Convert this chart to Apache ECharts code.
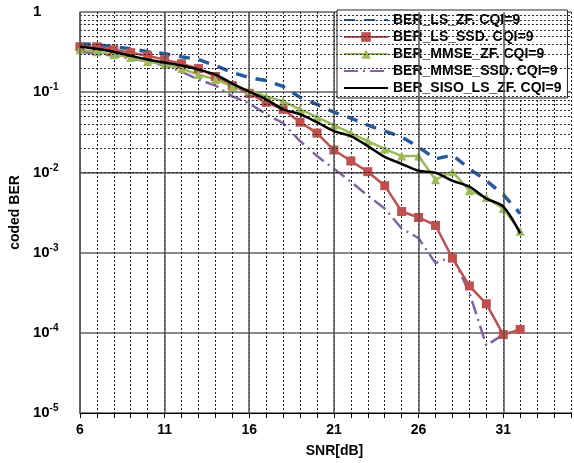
<!DOCTYPE html>
<html>
<head>
<meta charset="utf-8">
<script src="https://cdn.jsdelivr.net/npm/echarts@6/dist/echarts.min.js"></script>
<style>
html, body { margin: 0; padding: 0; background: #fff; }
#container { width: 574px; height: 463px; }
</style>
</head>
<body>
<div id="container"></div>
<script>
// SNR points (dB)
var snr = [6, 7, 8, 9, 10, 11, 12, 13, 14, 15, 16, 17, 18, 19, 20, 21, 22, 23, 24, 25, 26, 27, 28, 29, 30, 31, 32];

// coded BER
var berLsZf = [0.402, 0.391, 0.369, 0.348, 0.320, 0.302, 0.277, 0.255, 0.215, 0.176, 0.152, 0.140, 0.118, 0.0862, 0.0706, 0.0562, 0.0474, 0.0388, 0.0327, 0.0276, 0.0207, 0.0147, 0.0165, 0.0111, 0.00787, 0.00528, 0.00307];
var berLsSsd = [0.369, 0.369, 0.339, 0.311, 0.285, 0.255, 0.227, 0.197, 0.157, 0.121, 0.0966, 0.0748, 0.0612, 0.0423, 0.0309, 0.0190, 0.0139, 0.0102, 0.00683, 0.00325, 0.00274, 0.00218, 0.000853, 0.000384, 0.000230, 0.0000950, 0.000110];
var berMmseZf = [0.339, 0.320, 0.294, 0.270, 0.241, 0.221, 0.197, 0.166, 0.144, 0.118, 0.105, 0.0887, 0.0769, 0.0612, 0.0488, 0.0388, 0.0309, 0.0246, 0.0196, 0.0160, 0.0160, 0.00810, 0.0102, 0.00592, 0.00485, 0.00355, 0.00184];
var berMmseSsd = [0.320, 0.302, 0.285, 0.262, 0.241, 0.215, 0.181, 0.144, 0.121, 0.0887, 0.0727, 0.0531, 0.0411, 0.0246, 0.0160, 0.0111, 0.00765, 0.00513, 0.00355, 0.00200, 0.00151, 0.00074, 0.00090, 0.000315, 0.0000695, 0.0000950, null];
var berSisoLsZf = [0.369, 0.348, 0.320, 0.285, 0.255, 0.234, 0.215, 0.191, 0.166, 0.128, 0.102, 0.0815, 0.0612, 0.0531, 0.0423, 0.0327, 0.0284, 0.0213, 0.0156, 0.0128, 0.0105, 0.0099, 0.00787, 0.00664, 0.00471, 0.00375, 0.00174];

var seriesNames = ['BER_LS_ZF. CQI=9', 'BER_LS_SSD. CQI=9', 'BER_MMSE_ZF. CQI=9', 'BER_MMSE_SSD. CQI=9', 'BER_SISO_LS_ZF. CQI=9'];
var xMajor = [6, 11, 16, 21, 26, 31];
var decades = [-5, -4, -3, -2, -1];

var pairs = function (ys) {
    var res = [];
    for (var i = 0; i < snr.length; i++) {
        res.push([snr[i], ys[i]]);
    }
    return res;
};

// dashed minor grid at 2..9 x 10^d, solid lines at the major SNR ticks
var gridLines = [];
decades.forEach(function (d) {
    for (var k = 2; k <= 9; k++) {
        gridLines.push({ yAxis: k * Math.pow(10, d), lineStyle: { type: [2, 2], color: '#222', width: 1 } });
    }
});
xMajor.forEach(function (v) {
    gridLines.push({ xAxis: v, lineStyle: { type: 'solid', color: '#555', width: 1.5 } });
});

// lines without markers get no symbol in the legend
var noMark = { opacity: 0 };
var legendData = [
    { name: seriesNames[0], itemStyle: noMark },
    { name: seriesNames[1] },
    { name: seriesNames[2] },
    { name: seriesNames[3], itemStyle: noMark },
    { name: seriesNames[4], itemStyle: noMark }
];

var font = 'Liberation Sans, Arial, sans-serif';
var myChart = echarts.init(document.getElementById('container'));
var option = {
    backgroundColor: '#fff',
    animation: false,
    grid: { left: 77, right: 0, top: 12, bottom: 47, containLabel: false },
    legend: {
        orient: 'vertical',
        left: 337,
        top: 10,
        width: 236,
        data: legendData,
        itemWidth: 44,
        itemHeight: 12,
        itemGap: 3,
        padding: [3, 6, 3, 6],
        backgroundColor: '#fff',
        borderColor: '#222',
        borderWidth: 1,
        textStyle: { fontFamily: font, fontSize: 14, fontWeight: 'bold', color: '#000' }
    },
    xAxis: {
        type: 'value',
        min: 6,
        max: 35,
        interval: 1,
        name: 'SNR[dB]',
        nameLocation: 'middle',
        nameGap: 31,
        nameTextStyle: { fontFamily: font, fontSize: 14, fontWeight: 'bold', color: '#000', padding: [0, 0, 0, 18] },
        axisLine: { lineStyle: { color: '#000', width: 1 } },
        axisTick: {
            length: 5,
            interval: function (i, v) { return (v - 6) % 5 === 0; },
            lineStyle: { color: '#000' }
        },
        axisLabel: {
            margin: 10,
            fontFamily: font, fontSize: 14, fontWeight: 'bold', color: '#000',
            formatter: function (v) { return (v - 6) % 5 === 0 ? String(v) : ''; }
        },
        splitLine: { show: true, lineStyle: { type: [2, 2], color: '#222', width: 1 } }
    },
    yAxis: {
        type: 'log',
        logBase: 10,
        min: 1e-5,
        max: 1,
        name: 'coded BER',
        nameLocation: 'middle',
        nameGap: 52,
        nameTextStyle: { fontFamily: font, fontSize: 14, fontWeight: 'bold', color: '#000' },
        axisLine: { show: true, lineStyle: { color: '#777', width: 1.5 } },
        axisTick: { show: false },
        axisLabel: {
            align: 'left',
            margin: 47,
            formatter: function (v) {
                var e = Math.round(Math.log(v) / Math.LN10);
                if (e === 0) return '{b|1}';
                return '{b|10}{s|' + e + '}';
            },
            rich: {
                b: { fontFamily: font, fontSize: 15, fontWeight: 'bold', color: '#000' },
                s: { fontFamily: font, fontSize: 10, fontWeight: 'bold', color: '#000', padding: [0, 0, 9, 0] }
            }
        },
        splitLine: { show: true, lineStyle: { color: '#888', width: 2 } }
    },
    series: [
        {
            name: 'grid',
            type: 'line',
            data: [],
            silent: true,
            markLine: { silent: true, symbol: 'none', label: { show: false }, animation: false, data: gridLines }
        },
        {
            name: seriesNames[0],
            type: 'line',
            data: pairs(berLsZf),
            symbol: 'none',
            lineStyle: { color: '#235b9d', width: 3.5, type: [11, 9] },
            itemStyle: { color: '#235b9d' },
            z: 3
        },
        {
            name: seriesNames[1],
            type: 'line',
            data: pairs(berLsSsd),
            symbol: 'rect',
            symbolSize: 9,
            lineStyle: { color: '#c0504d', width: 2.5 },
            itemStyle: { color: '#c0504d' },
            z: 4
        },
        {
            name: seriesNames[2],
            type: 'line',
            data: pairs(berMmseZf),
            symbol: 'triangle',
            symbolSize: 9,
            lineStyle: { color: '#9bbb59', width: 2.5 },
            itemStyle: { color: '#9bbb59' },
            z: 4
        },
        {
            name: seriesNames[3],
            type: 'line',
            data: pairs(berMmseSsd),
            symbol: 'none',
            lineStyle: { color: '#8064a2', width: 2.5, type: [14, 5, 2, 5] },
            itemStyle: { color: '#8064a2' },
            z: 3
        },
        {
            name: seriesNames[4],
            type: 'line',
            data: pairs(berSisoLsZf),
            symbol: 'none',
            smooth: 0.3,
            lineStyle: { color: '#000', width: 2.5 },
            itemStyle: { color: '#000' },
            z: 5
        }
    ]
};
myChart.setOption(option);
</script>
</body>
</html>
